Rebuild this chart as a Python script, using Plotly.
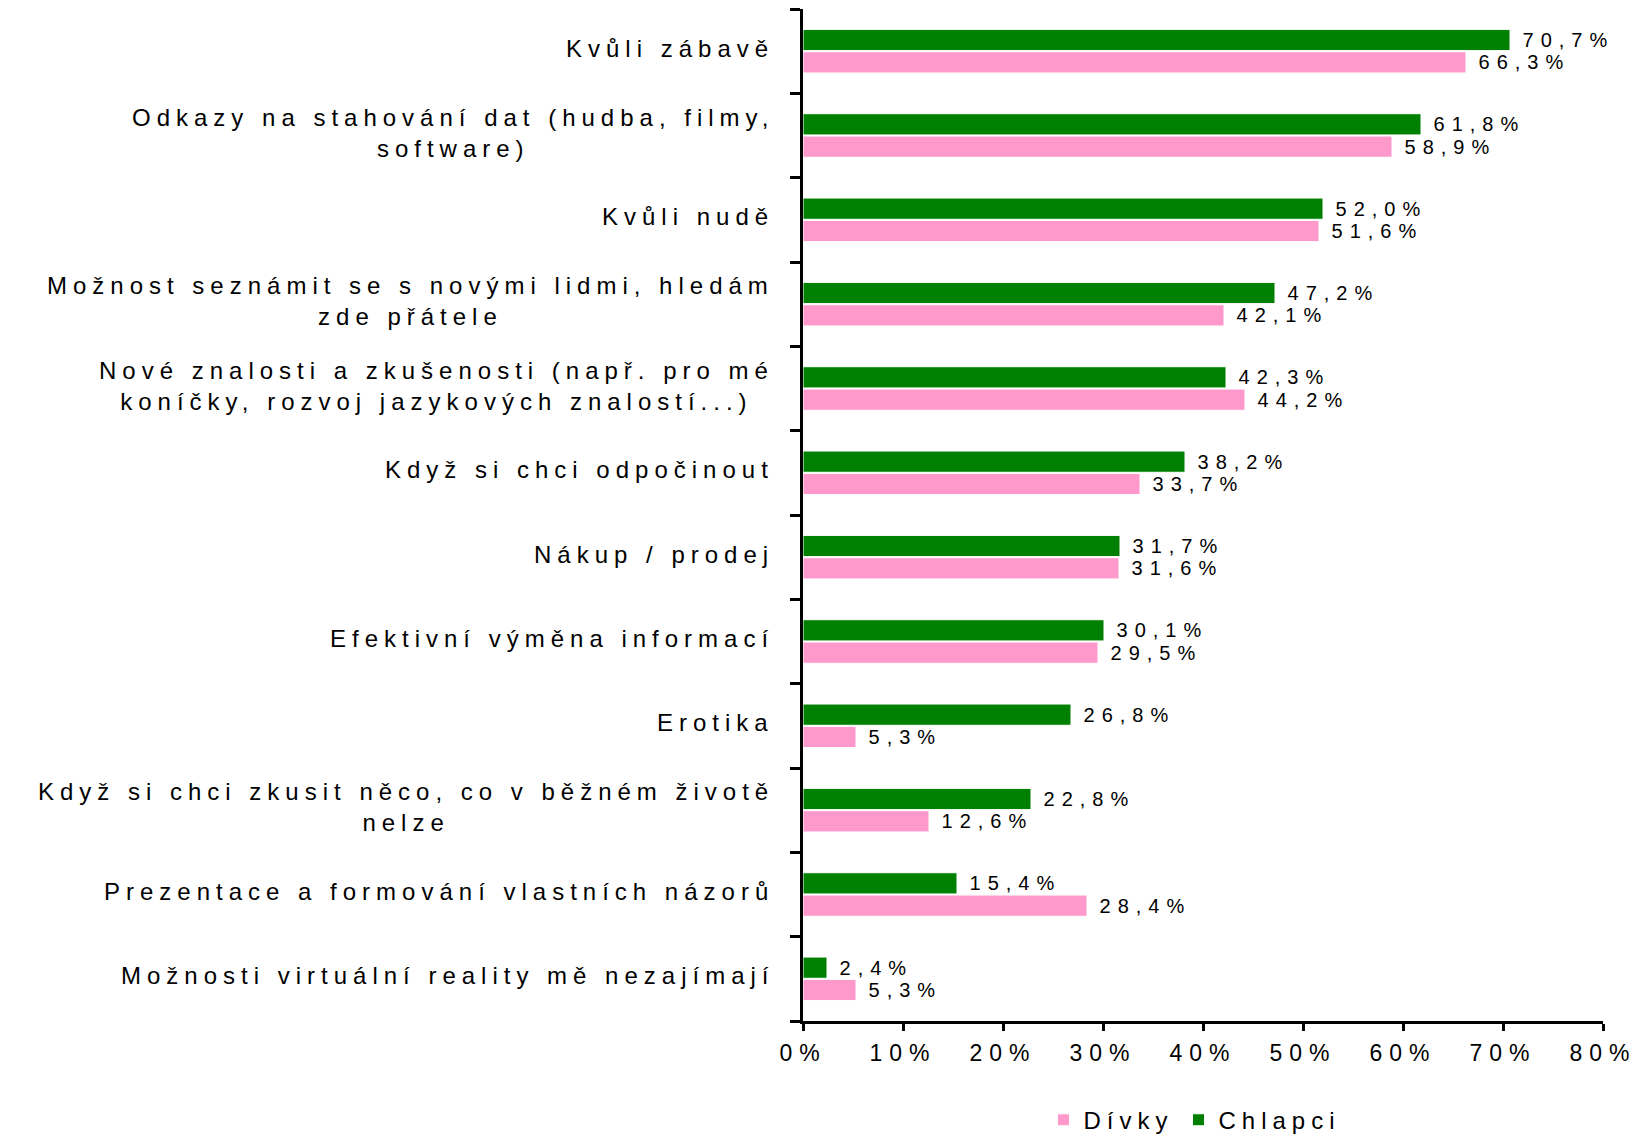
import plotly.graph_objects as go

categories = [
    "Kvůli zábavě",
    "Odkazy na stahování dat (hudba, filmy,<br>software)",
    "Kvůli nudě",
    "Možnost seznámit se s novými lidmi, hledám<br>zde přátele",
    "Nové znalosti a zkušenosti (např. pro mé<br>koníčky, rozvoj jazykových znalostí...)",
    "Když si chci odpočinout",
    "Nákup / prodej",
    "Efektivní výměna informací",
    "Erotika",
    "Když si chci zkusit něco, co v běžném životě<br>nelze",
    "Prezentace a formování vlastních názorů",
    "Možnosti virtuální reality mě nezajímají",
]
divky = [66.3, 58.9, 51.6, 42.1, 44.2, 33.7, 31.6, 29.5, 5.3, 12.6, 28.4, 5.3]
chlapci = [70.7, 61.8, 52.0, 47.2, 42.3, 38.2, 31.7, 30.1, 26.8, 22.8, 15.4, 2.4]
x_ticks = [0, 10, 20, 30, 40, 50, 60, 70, 80]

FONT = "Liberation Sans, Arial, sans-serif"


def sp(t, ls):
    return "<br>".join(f'<span style="letter-spacing:{ls}px">{p}</span>' for p in t.split("<br>"))


def fmt(v):
    return ('<span style="letter-spacing:4px">\u00a0</span>'
            + sp(f"{v:.1f}".replace(".", ",") + "%", 7))


fig = go.Figure()
fig.add_trace(go.Bar(
    name=sp("Dívky", 6), y=categories, x=divky, orientation="h",
    marker=dict(color="#FF99CC", line=dict(color="white", width=1)),
    text=[fmt(v) for v in divky], textposition="outside", cliponaxis=False,
    constraintext="none", textfont=dict(color="black", size=20, family=FONT),
))
fig.add_trace(go.Bar(
    name=sp("Chlapci", 6), y=categories, x=chlapci, orientation="h",
    marker=dict(color="#008000", line=dict(color="white", width=1)),
    text=[fmt(v) for v in chlapci], textposition="outside", cliponaxis=False,
    constraintext="none", textfont=dict(color="black", size=20, family=FONT),
))

for c in categories:
    fig.add_annotation(
        x=0, xref="paper", y=c, yref="y", text=sp(c, 6), showarrow=False,
        xanchor="right", yanchor="middle", align="center", xshift=-27, yshift=3,
        font=dict(size=24, color="black", family=FONT),
    )

fig.update_layout(
    width=1642, height=1136,
    margin=dict(l=795, r=47, t=1, b=121),
    paper_bgcolor="white", plot_bgcolor="white",
    barmode="group", bargap=0.47, bargroupgap=0.05,
    font=dict(family=FONT, color="black", size=22),
    showlegend=True,
    legend=dict(orientation="h", x=0.49, xanchor="center", y=-0.098, yanchor="middle",
                font=dict(size=24, color="black", family=FONT), itemwidth=30),
    xaxis=dict(
        range=[0, 80], tickmode="array", tickvals=x_ticks,
        ticktext=[sp(f"{t}%", 7) for t in x_ticks],
        showgrid=False, zeroline=False, showline=True, linecolor="black", linewidth=2.5,
        ticks="outside", ticklen=7, tickwidth=2.5, tickcolor="black", ticklabelstandoff=3,
        tickfont=dict(size=23, color="black", family=FONT),
    ),
    yaxis=dict(
        categoryorder="array", categoryarray=categories[::-1],
        showticklabels=False, showgrid=False, zeroline=False,
        showline=True, linecolor="black", linewidth=2.5,
        ticks="outside", tickson="boundaries", ticklen=10, tickwidth=2.5, tickcolor="black",
    ),
)

fig.write_html("out.html")
